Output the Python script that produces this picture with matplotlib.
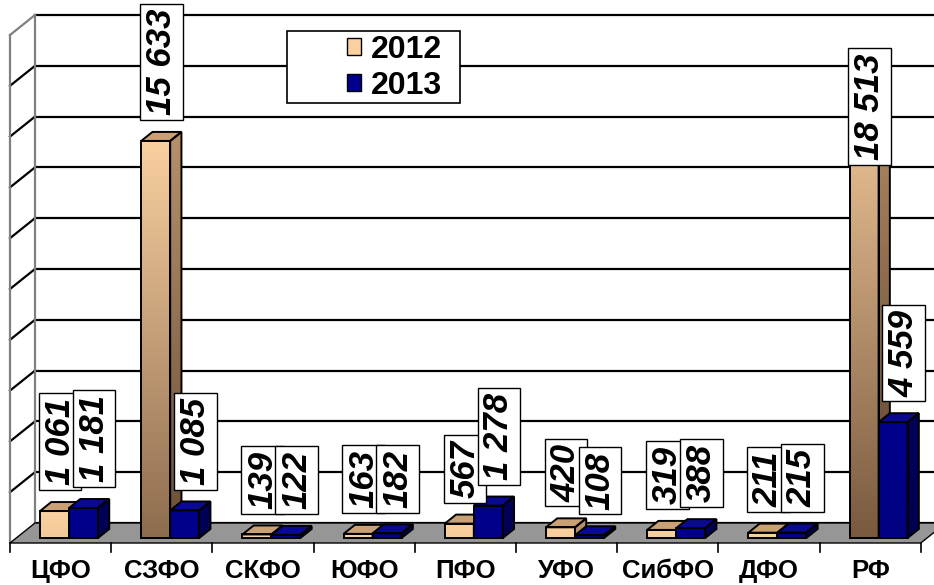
import numpy as np
import matplotlib.pyplot as plt
from matplotlib.patches import Polygon, Rectangle, Patch
from matplotlib.colors import to_rgb

plt.rcParams['font.family'] = ['Liberation Sans', 'DejaVu Sans']

# data
regions = ['ЦФО', 'СЗФО', 'СКФО', 'ЮФО', 'ПФО', 'УФО', 'СибФО', 'ДФО', 'РФ']
years = ['2012', '2013']
v2012 = [1061, 15633, 139, 163, 567, 420, 319, 211, 18513]
v2013 = [1181, 1085, 122, 182, 1278, 108, 388, 215, 4559]
y_max = 20000
y_step = 2000

# geometry of the fake 3d view (pixels)
W, H = 934, 585
cat_px = 101.2        # pixels per category
left_px = 10          # left edge of the floor front
base_px = 543         # floor front line, from top
per_px = 0.0254       # pixels per unit of value
DX = 25 / cat_px      # full depth, x
DY = 20 / per_px      # full depth, y
d0, d1 = 0.25, 0.7    # bar depth (fraction of the floor)
bar_w = 29 / cat_px
bar_off = (30 - d0 * 25) / cat_px
grad_len = 480 / per_px

# colours: (front light, front dark, side light, side dark, top)
styles = [
    ('#FAD0A0', '#76573D', '#B8916A', '#5A412D', '#C9A174'),
    ('#00008C', '#00005A', '#000058', '#000038', '#0A0A90'),
]


def shade(ax, patch, top, bottom, c1, c2, z):
    # vertical gradient, darker the further from the top of the bar
    n = 200
    h = top - bottom
    t = np.clip((np.arange(n) + 0.5) / n * h / grad_len, 0, 1)
    a, b = np.array(to_rgb(c1)), np.array(to_rgb(c2))
    img = (a[None, :] * (1 - t[:, None]) + b[None, :] * t[:, None])[:, None, :]
    if isinstance(patch, Polygon):
        xs = patch.get_path().vertices[:, 0]
        x0, x1 = xs.min(), xs.max()
    else:
        x0, x1 = patch.get_x(), patch.get_x() + patch.get_width()
    im = ax.imshow(img, extent=[x0, x1, bottom, top], origin='upper',
                   aspect='auto', zorder=z, interpolation='bilinear')
    im.set_clip_path(patch)


fig = plt.figure(figsize=(W / 100, H / 100), dpi=100)
ax = fig.add_axes([0, 0, 1, 1])
ax.set_axis_off()

x_lo = -0.5
x_hi = x_lo + 9
xlim = (x_lo - left_px / cat_px, x_lo + (W - left_px) / cat_px)
ylim = (-(H - base_px) / per_px, base_px / per_px)

# floor
ax.add_patch(Polygon([(x_lo, 0), (x_hi, 0), (x_hi + DX, DY), (x_lo + DX, DY)],
                     closed=True, fc='#969696', ec='black', lw=1, zorder=1))

# back wall gridlines and left wall
levels = np.arange(0, y_max + 1, y_step)
for v in levels:
    ax.plot([x_lo + DX, xlim[1] + 1], [v + DY, v + DY], color='black', lw=1.6, zorder=0.5)
    col = '#808080' if v == y_max else 'black'
    if v > 0:
        ax.plot([x_lo, x_lo + DX], [v, v + DY], color=col, lw=1.6, zorder=0.6)
ax.plot([x_lo, x_lo], [0, y_max], color='#808080', lw=1.6, zorder=0.6)
ax.plot([x_lo + DX, x_lo + DX], [DY, y_max + DY], color='#808080', lw=1.6, zorder=0.6)

# x ticks on the floor front
tick_len = 9 / per_px
for k in range(len(regions) + 1):
    ax.plot([x_lo + k, x_lo + k], [0, -tick_len], color='black', lw=1.2, zorder=2)
for k, name in enumerate(regions):
    ax.annotate(name, (k, 0), xytext=(0, -25.5), textcoords='offset points',
                ha='center', va='baseline', fontsize=18.5, fontweight='bold')

# bars
x = np.arange(len(regions))
ddx = (d1 - d0) * DX
ddy = (d1 - d0) * DY
labels = []
for s, vals in enumerate([v2012, v2013]):
    fl, fd, sl, sd, tc = styles[s]
    z = 3 + s
    bars = ax.bar(x + x_lo + bar_off + s * bar_w + d0 * DX, vals, bar_w,
                  bottom=d0 * DY, align='edge', fc='none', ec='black', lw=1.4,
                  zorder=z + 0.2)
    for b, v in zip(bars, vals):
        x0 = b.get_x()
        x1 = x0 + b.get_width()
        y0 = b.get_y()
        y1 = y0 + b.get_height()
        shade(ax, b, y1, y0, fl, fd, z)
        side = Polygon([(x1, y0), (x1 + ddx, y0 + ddy), (x1 + ddx, y1 + ddy), (x1, y1)],
                       closed=True, fc='none', ec='black', lw=1.4, zorder=z + 0.2)
        ax.add_patch(side)
        shade(ax, side, y1 + ddy, y0, sl, sd, z + 0.1)
        ax.add_patch(Polygon([(x0, y1), (x1, y1), (x1 + ddx, y1 + ddy), (x0 + ddx, y1 + ddy)],
                             closed=True, fc=tc, ec='black', lw=1.4, zorder=z + 0.15))
        xc = (x0 + x1) / 2 + ddx / 2 + s * 5 / cat_px
        txt = ax.annotate(f'{v:,}'.replace(',', ' '), (xc, y1),
                          xytext=(0, 18.5), textcoords='offset points',
                          rotation=90, ha='center', va='bottom',
                          fontsize=25, fontweight='bold', fontstyle='italic',
                          bbox=dict(boxstyle='square,pad=0.14', fc='white', ec='black', lw=1),
                          zorder=10 + s)
        labels.append((txt, xc))

ax.set_xlim(xlim)
ax.set_ylim(ylim)

# labels that would leave the chart are pulled down inside it
fig.canvas.draw()
r = fig.canvas.get_renderer()
for txt, xc in labels:
    ext = txt.get_bbox_patch().get_window_extent(r)
    if ext.y1 > H:
        txt.xy = (xc, y_max - 500)
        txt.set_va('top')
        txt.set_position((0, -4))

# legend with its own frame
fig.patches.append(Rectangle((287 / W, 1 - 103 / H), 173 / W, 72 / H, transform=fig.transFigure,
                             fc='white', ec='black', lw=1.2, zorder=5))
handles = [Patch(fc=styles[0][0], ec='black', lw=1), Patch(fc=styles[1][0], ec='black', lw=1)]
leg = fig.legend(handles, years, loc='center left', bbox_to_anchor=(318 / W, 1 - 68 / H),
                 frameon=False, prop={'size': 23, 'weight': 'bold'},
                 handlelength=0.45, handleheight=0.45, handletextpad=0.3, labelspacing=0.2)
leg.set_zorder(6)

fig.savefig('out.png', dpi=100)
